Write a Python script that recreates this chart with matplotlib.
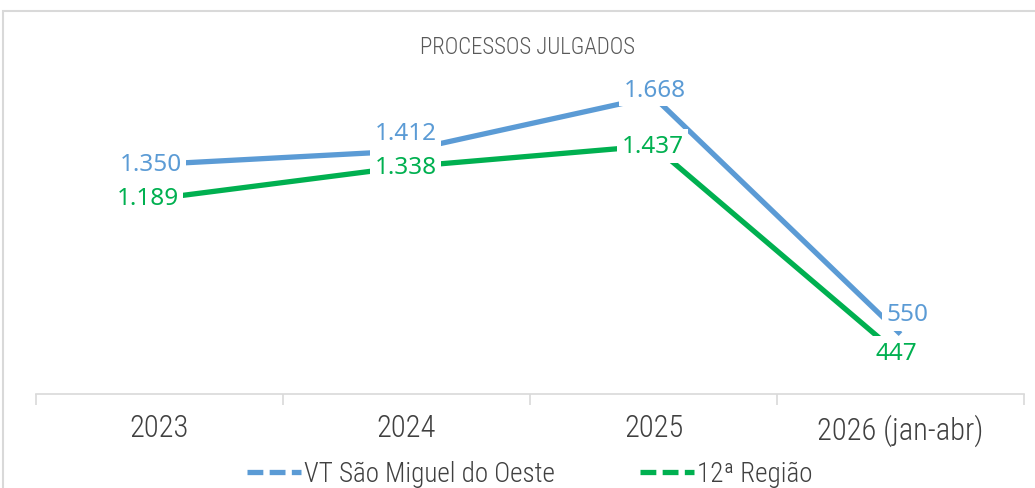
import matplotlib
matplotlib.use("Agg")
import matplotlib.pyplot as plt
from matplotlib.lines import Line2D
from matplotlib.patches import Rectangle
from matplotlib import font_manager

categories = ["2023", "2024", "2025", "2026 (jan-abr)"]
vt_values = [1350, 1412, 1668, 550]
regiao_values = [1189, 1338, 1437, 447]
vt_labels = ["1.350", "1.412", "1.668", "550"]
regiao_labels = ["1.189", "1.338", "1.437", "447"]
series_names = ["VT São Miguel do Oeste", "12ª Região"]
title = "PROCESSOS JULGADOS"

BLUE = "#5B9BD5"
GREEN = "#00B050"
W, H = 1035, 489

names = {f.name for f in font_manager.fontManager.ttflist}
narrow = [n for n in ["Roboto Condensed", "Liberation Sans Narrow", "Roboto"] if n in names] + ["DejaVu Sans"]

fig = plt.figure(figsize=(W / 100, H / 100), dpi=100)
fig.patch.set_facecolor("white")

# outer chart border
fig.patches.append(Rectangle((3 / W, -0.05), 1.1, (H - 12) / H + 0.05,
                             transform=fig.transFigure, fill=False,
                             edgecolor="#d9d9d9", lw=1.5, clip_on=False))

left, right = 36 / W, 1024 / W
bottom, top = 1 - 395 / H, 1 - 60 / H
ax = fig.add_axes([left, bottom, right - left, top - bottom])
ax.set_xlim(-0.5, 3.5)
ax.set_ylim(268, 1845)
for s in ["top", "right", "left"]:
    ax.spines[s].set_visible(False)
ax.spines["bottom"].set_color("#d9d9d9")
ax.spines["bottom"].set_linewidth(1.2)
ax.set_yticks([])
x = list(range(len(categories)))
ax.set_xticks(x)
ax.set_xticklabels(categories, fontsize=22, color="#404040", family=narrow,
                   fontweight="light")
ax.tick_params(axis="x", which="major", length=0, pad=14)
ax.set_xticks([i - 0.5 for i in range(len(categories) + 1)], minor=True)
ax.tick_params(axis="x", which="minor", length=8, color="#d9d9d9", width=1.2)

ax.plot(x, vt_values, color=BLUE, lw=3.8, solid_capstyle="butt", zorder=2)
ax.plot(x, regiao_values, color=GREEN, lw=3.8, solid_capstyle="butt", zorder=2)

lab_font = dict(fontsize=17.5, family=["Noto Sans", "DejaVu Sans"])
bbox = dict(boxstyle="square,pad=0.2", fc="white", ec="none")
k = 0.72  # px -> pt
# offsets in pixels (dx, dy) from the data point to the label centre
vt_pos = [(-9, 0), (-1, 18), (1, 7), (7, 20)]
rg_pos = [(-12, 0), (-1, 0), (-1, 0), (-4, 3)]
for i in x:
    dx, dy = vt_pos[i]
    ax.annotate(vt_labels[i], (i, vt_values[i]), xytext=(dx * k, dy * k),
                textcoords="offset points", ha="center", va="center", color=BLUE,
                bbox=bbox, zorder=5, **lab_font)
    dx, dy = rg_pos[i]
    ax.annotate(regiao_labels[i], (i, regiao_values[i]), xytext=(dx * k, dy * k),
                textcoords="offset points", ha="center", va="center", color=GREEN,
                bbox=bbox, zorder=5, **lab_font)

fig.text(527 / W, 1 - 47 / H, title, ha="center", va="center", fontsize=16.5,
         color="#595959", family=narrow, fontweight="light")

handles = [Line2D([], [], color=BLUE, lw=3.8, linestyle=(0, (3, 1.2))),
           Line2D([], [], color=GREEN, lw=3.8, linestyle=(0, (3, 1.2)))]
fig.legend(handles, series_names, loc="center", bbox_to_anchor=(0.512, 1 - 475 / H),
           ncol=2, frameon=False, handlelength=2.0, handletextpad=0.1,
           columnspacing=3.15,
           prop=dict(size=19.5, family=narrow, weight="light"),
           labelcolor="#404040")

fig.savefig("out.png", dpi=100, facecolor="white")
